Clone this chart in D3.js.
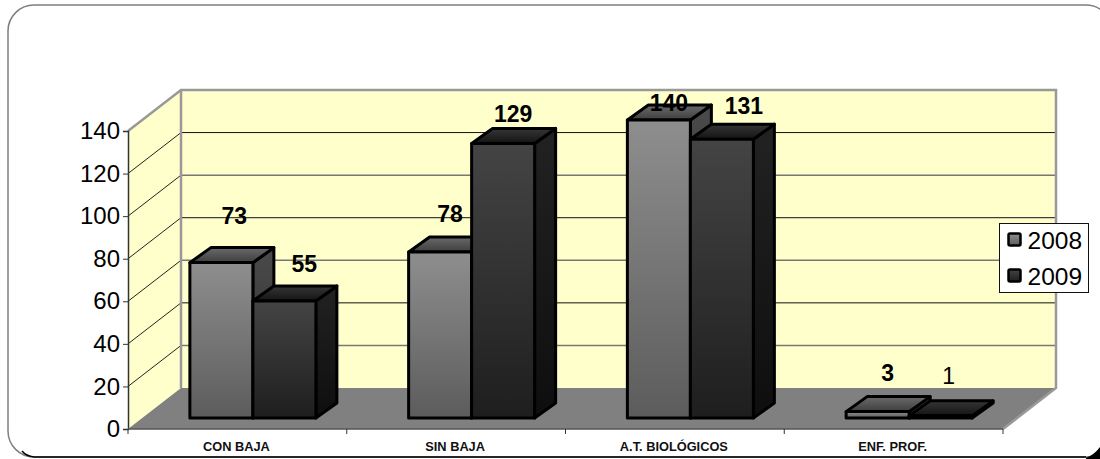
<!DOCTYPE html>
<html><head><meta charset="utf-8">
<script src="https://cdn.jsdelivr.net/npm/d3@7/dist/d3.min.js"></script>
<style>html,body{margin:0;padding:0;background:#fff;overflow:hidden}svg{display:block}text{font-family:"Liberation Sans",Arial,sans-serif}</style>
</head><body><svg id="c" width="1100" height="459"></svg>
<script>
const categories = ["CON BAJA","SIN BAJA","A.T. BIOLÓGICOS","ENF. PROF."];
const seriesNames = ["2008","2009"];
const values2008 = [73,78,140,3];
const values2009 = [55,129,131,1];
const yTicks = [0,20,40,60,80,100,120,140];
const labelLift2008 = [47,38,17,39];
const labelLift2009 = [37,29,33,40];
const labelShift2008 = [0,-3,-3,-3];
const labelShift2009 = [1,-9,3,-11];

const svg = d3.select("#c");
const x = d3.scaleBand().domain(categories).range([128,1003]);
const y = d3.scaleLinear().domain([0,140]).range([429,131]);
const wall = {dx:53, dy:-41};
const barW = 63, barBase = {dx:15.5, dy:-11}, barDepth = {dx:21, dy:-15};
const x0 = x.range()[0], x1 = x.range()[1];

const defs = svg.append("defs");
function grad(id,top,bot){
  const g = defs.append("linearGradient").attr("id",id).attr("x1",0).attr("y1",0).attr("x2",0).attr("y2",1);
  g.append("stop").attr("offset",0).attr("stop-color",top);
  g.append("stop").attr("offset",1).attr("stop-color",bot);
}
grad("f0","#8e8e8e","#5c5c5c"); grad("t0","#6a6a6a","#3e3e3e"); grad("s0","#4a4a4a","#2c2c2c");
grad("f1","#444444","#1e1e1e"); grad("t1","#363636","#141414"); grad("s1","#222222","#0e0e0e");

// frame: runs past the right edge of the picture
svg.append("rect").attr("x",8).attr("y",5).attr("width",1104).attr("height",452).attr("rx",26).attr("ry",26)
  .attr("fill","#fff").attr("stroke","#7f7f7f").attr("stroke-width",1.5);
svg.append("path").attr("d","M22,451 Q26,456 34,457 L1086,457")
  .attr("fill","none").attr("stroke","#000").attr("stroke-width",1.5);
svg.append("path").attr("d","M1086,457.8 Q1094,455 1100,447 L1100,459 L1086,459 Z").attr("fill","#000");

// walls
const poly=(pts)=>pts.map(p=>p.join(",")).join(" ");
svg.append("polygon").attr("points",poly([[x0,y(0)],[x0+wall.dx,y(0)+wall.dy],[x0+wall.dx,y(140)+wall.dy],[x0,y(140)]])).attr("fill","#ffffcc");
svg.append("polygon").attr("points",poly([[x0+wall.dx,y(0)+wall.dy],[x1+wall.dx,y(0)+wall.dy],[x1+wall.dx,y(140)+wall.dy],[x0+wall.dx,y(140)+wall.dy]])).attr("fill","#ffffcc");
svg.append("polygon").attr("points",poly([[x0,y(0)],[x1,y(0)],[x1+wall.dx,y(0)+wall.dy],[x0+wall.dx,y(0)+wall.dy]])).attr("fill","#808080");

// gridlines
yTicks.filter(t=>t>0&&t<140).forEach((t,i)=>{
  svg.append("line").attr("x1",x0).attr("y1",y(t)).attr("x2",x0+wall.dx).attr("y2",y(t)+wall.dy).attr("stroke","#222").attr("stroke-width",1);
  svg.append("line").attr("x1",x0+wall.dx).attr("y1",y(t)+wall.dy).attr("x2",x1+wall.dx).attr("y2",y(t)+wall.dy).attr("stroke",i%2? "#111":"#777").attr("stroke-width",i%2?1:1.5);
});
// wall outline
svg.append("polyline").attr("points",poly([[x0,y(140)],[x0+wall.dx,y(140)+wall.dy],[x1+wall.dx,y(140)+wall.dy],[x1+wall.dx,y(0)+wall.dy],[x1,y(0)]]))
  .attr("fill","none").attr("stroke","#999").attr("stroke-width",2.5);
svg.append("line").attr("x1",x0+wall.dx).attr("y1",y(140)+wall.dy).attr("x2",x0+wall.dx).attr("y2",y(0)+wall.dy).attr("stroke","#999").attr("stroke-width",2.5);

// axes
const yAxis = d3.axisLeft(y).tickValues(yTicks).tickSize(5).tickPadding(3);
const ga = svg.append("g").attr("transform",`translate(${x0},0)`).call(yAxis);
ga.select(".domain").attr("stroke","#333").attr("stroke-width",1.5);
ga.selectAll("line").attr("stroke","#333");
ga.selectAll("text").attr("font-size",24).attr("fill","#000").style("font-family",'"Liberation Sans",Arial,sans-serif');

const gx = svg.append("g").attr("transform",`translate(0,${y(0)})`);
gx.append("line").attr("x1",x0).attr("x2",x1).attr("stroke","#555").attr("stroke-width",1.5);
d3.range(categories.length+1).forEach(i=>gx.append("line").attr("x1",x0+i*x.step()).attr("x2",x0+i*x.step()).attr("y2",5).attr("stroke","#333"));
gx.selectAll("text.cat").data(categories).join("text").attr("class","cat")
  .attr("x",d=>x(d)+x.bandwidth()/2-1).attr("y",21.5).attr("text-anchor","middle")
  .attr("font-size",12.8).attr("font-weight","bold").attr("fill","#111").text(d=>d);

// bars
const inner = d3.scaleBand().domain(seriesNames).range([0,2*barW]);
const series = [values2008,values2009];
const groupStart = c => x(c)+(x.bandwidth()-2*barW)/2+barBase.dx;
const bottomY = y(0)+barBase.dy;
const unit = (y(0)-y(1));
function bar(c,si,v){
  const l = groupStart(c)+inner(seriesNames[si]), r=l+barW, h=v*unit, t=bottomY-h;
  const g = svg.append("g").attr("stroke","#000").attr("stroke-width",3).attr("stroke-linejoin","round");
  const {dx,dy}=barDepth;
  g.append("polygon").attr("points",poly([[r,t],[r+dx,t+dy],[r+dx,bottomY+dy],[r,bottomY]])).attr("fill",`url(#s${si})`);
  g.append("polygon").attr("points",poly([[l,t],[l+dx,t+dy],[r+dx,t+dy],[r,t]])).attr("fill",`url(#t${si})`);
  g.append("rect").attr("x",l).attr("y",t).attr("width",barW).attr("height",h).attr("fill",`url(#f${si})`);
}
categories.forEach((c,i)=>{
  bar(c,0,values2008[i]);
  bar(c,1,values2009[i]);
});
// data labels
const lifts=[labelLift2008,labelLift2009], shifts=[labelShift2008,labelShift2009];
series.forEach((vals,si)=>vals.forEach((v,i)=>{
  const c=categories[i];
  const cx=groupStart(c)+inner(seriesNames[si])+barW/2+barDepth.dx+(si? -2 : -8)+shifts[si][i];
  svg.append("text").attr("x",cx).attr("y",bottomY-v*unit-lifts[si][i]+8)
    .attr("text-anchor","middle").attr("font-size",23)
    .attr("font-weight",v===1?"normal":"bold").attr("fill","#000").text(v);
}));

// legend
const lg = svg.append("g").attr("transform","translate(999.5,223.5)");
lg.append("rect").attr("width",89).attr("height",69).attr("fill","#fff").attr("stroke","#111").attr("stroke-width",1);
seriesNames.forEach((n,i)=>{
  lg.append("rect").attr("x",9).attr("y",10+i*36).attr("width",12).attr("height",12).attr("rx",1.5)
    .attr("fill",`url(#f${i})`).attr("stroke","#000").attr("stroke-width",2.5);
  lg.append("text").attr("x",28).attr("y",25+i*36).attr("font-size",24.5).attr("fill","#000").text(n);
});
</script></body></html>
